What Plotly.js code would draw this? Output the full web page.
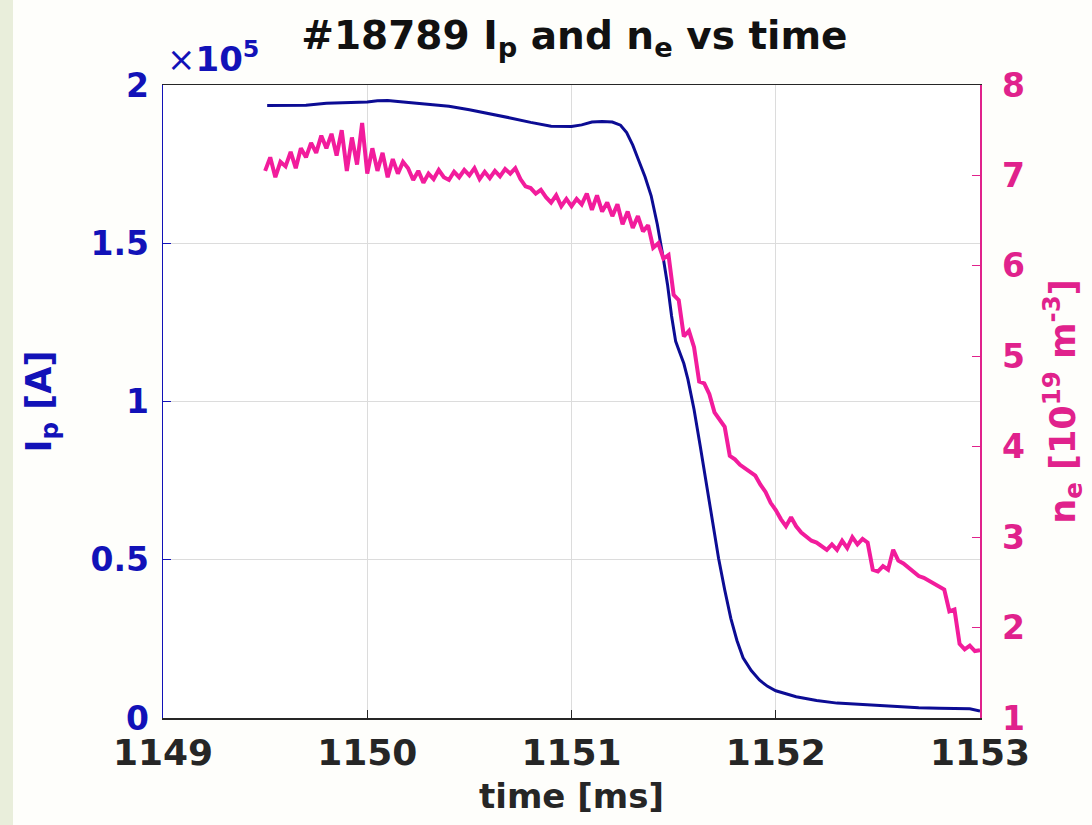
<!DOCTYPE html>
<html>
<head>
<meta charset="utf-8">
<script src="https://cdn.plot.ly/plotly-3.0.1.min.js"></script>
<style>
  html, body { margin: 0; padding: 0; }
  body { width: 1092px; height: 825px; background: linear-gradient(to right, #e9eedb 0px, #e9eedb 13px, #fefefb 13px); }
  #chart { width: 1092px; height: 825px; }
</style>
</head>
<body>
<div id="chart"></div>
<script>
// Plasma current Ip [A]
const ipTime = [1149.51,1149.60,1149.70,1149.80,1149.90,1150.00,1150.05,1150.10,1150.15,1150.20,1150.30,1150.40,1150.50,1150.60,1150.70,1150.80,1150.90,1151.00,1151.05,1151.10,1151.15,1151.20,1151.24,1151.27,1151.30,1151.33,1151.36,1151.39,1151.42,1151.45,1151.47,1151.49,1151.51,1151.53,1151.55,1151.57,1151.60,1151.63,1151.66,1151.69,1151.72,1151.75,1151.78,1151.81,1151.84,1151.88,1151.92,1151.96,1152.00,1152.10,1152.20,1152.30,1152.40,1152.50,1152.60,1152.70,1152.80,1152.90,1152.95,1153.00];
const ipValues = [193500,193500,193600,194200,194300,194600,195000,195100,194800,194500,194000,193300,192200,191000,189600,188200,187000,186900,187400,188300,188500,188300,187300,185000,181000,176000,171000,165000,156000,145000,137000,127000,119000,115500,112000,107000,97500,86000,74000,62000,50500,40500,31500,24500,19000,15000,12000,10000,8600,6700,5500,4700,4300,3800,3400,3200,3100,3000,2900,2200];

// Electron density ne [1e19 m^-3]
const neTime = [
1149.500,1149.525,1149.550,1149.575,1149.600,1149.625,1149.650,1149.675,1149.700,1149.725,1149.750,1149.775,
1149.800,1149.825,1149.850,1149.875,1149.900,1149.925,1149.950,1149.975,1150.000,1150.025,1150.050,1150.075,
1150.100,1150.125,1150.150,1150.175,1150.200,1150.225,1150.250,1150.275,1150.300,1150.325,1150.350,1150.375,
1150.400,1150.425,1150.450,1150.475,1150.500,1150.525,1150.550,1150.575,1150.600,1150.625,1150.650,1150.675,
1150.700,1150.725,1150.750,1150.775,1150.800,1150.825,1150.850,1150.875,1150.900,1150.925,1150.950,1150.975,
1151.000,1151.025,1151.050,1151.075,1151.100,1151.125,1151.150,1151.175,1151.200,1151.225,1151.250,1151.275,
1151.300,1151.325,1151.350,1151.375,1151.400,1151.425,1151.450,1151.475,1151.500,1151.525,1151.550,1151.575,
1151.600,1151.625,1151.650,1151.675,1151.700,1151.725,1151.750,1151.775,1151.800,1151.825,1151.850,1151.875,
1151.900,1151.925,1151.950,1151.975,1152.000,1152.025,1152.050,1152.075,1152.100,1152.125,1152.150,1152.175,
1152.200,1152.225,1152.250,1152.275,1152.300,1152.325,1152.350,1152.375,1152.400,1152.425,1152.450,1152.475,
1152.500,1152.525,1152.550,1152.575,1152.600,1152.625,1152.650,1152.675,1152.700,1152.725,1152.750,1152.775,
1152.800,1152.825,1152.850,1152.875,1152.900,1152.925,1152.950,1152.975,1153.000];
const neValues = [
7.05,7.20,6.98,7.15,7.10,7.26,7.08,7.30,7.20,7.36,7.25,7.44,
7.30,7.46,7.22,7.50,7.05,7.42,7.12,7.58,7.02,7.30,7.05,7.25,
6.98,7.18,7.02,7.15,7.08,6.95,7.05,6.92,7.02,6.96,7.06,6.98,
6.95,7.04,6.98,7.06,7.00,7.08,6.96,7.04,6.97,7.05,6.99,7.07,
7.02,7.08,6.96,6.88,6.86,6.80,6.84,6.76,6.70,6.78,6.66,6.74,
6.66,6.74,6.68,6.80,6.62,6.78,6.60,6.70,6.55,6.68,6.46,6.60,
6.42,6.55,6.38,6.45,6.20,6.25,6.08,6.12,5.68,5.62,5.22,5.28,
5.10,4.72,4.70,4.58,4.38,4.30,4.22,3.90,3.86,3.80,3.76,3.72,
3.68,3.58,3.50,3.38,3.30,3.20,3.12,3.22,3.12,3.05,3.00,2.96,
2.94,2.90,2.86,2.92,2.86,2.96,2.88,3.00,2.92,2.98,2.94,2.64,
2.62,2.68,2.64,2.86,2.74,2.71,2.66,2.62,2.57,2.55,2.52,2.49,
2.45,2.42,2.18,2.20,1.82,1.76,1.80,1.74,1.75];

const xTicks = [1149, 1150, 1151, 1152, 1153];
const ipTickVals = [0, 50000, 100000, 150000, 200000];
const ipTickText = ['0', '0.5', '1', '1.5', '2'];
const neTicks = [1, 2, 3, 4, 5, 6, 7, 8];

const BLUE_AX = '#1212b8';
const BLUE_LN = '#0c0c94';
const PINK_AX = '#e0228c';
const PINK_LN = '#f21c9c';
const FONT = 'DejaVu Sans';

const traces = [
  {x: ipTime, y: ipValues, type: 'scatter', mode: 'lines', name: 'Ip',
   line: {color: BLUE_LN, width: 3}, yaxis: 'y'},
  {x: neTime, y: neValues, type: 'scatter', mode: 'lines', name: 'ne',
   line: {color: PINK_LN, width: 4}, yaxis: 'y2'}
];

const layout = {
  width: 1092, height: 825,
  margin: {l: 163, r: 112, t: 85, b: 107},
  paper_bgcolor: 'rgba(0,0,0,0)',
  plot_bgcolor: '#ffffff',
  showlegend: false,
  title: {text: '#18789 I<sub>p</sub> and n<sub>e</sub> vs time',
          font: {family: FONT, size: 39, color: '#111111', weight: 'bold'},
          x: 0.526, xanchor: 'center', y: 0.957, yanchor: 'middle'},
  xaxis: {
    range: [1149, 1153], tickvals: xTicks, ticks: 'inside', ticklen: 8,
    tickcolor: '#262626', linecolor: '#262626', linewidth: 1.5, mirror: true,
    showgrid: true, gridcolor: '#dcdcdc', gridwidth: 1, zeroline: false,
    tickfont: {family: FONT, size: 36, color: '#262626', weight: 'bold'},
    ticklabelstandoff: 2,
    title: {text: 'time [ms]', font: {family: FONT, size: 34, color: '#262626', weight: 'bold'}, standoff: 12}
  },
  yaxis: {
    range: [0, 200000], tickvals: ipTickVals, ticktext: ipTickText,
    ticks: 'inside', ticklen: 8, tickcolor: BLUE_AX, linecolor: BLUE_AX, linewidth: 1.5,
    showgrid: true, gridcolor: '#dcdcdc', gridwidth: 1, zeroline: false,
    tickfont: {family: FONT, size: 33, color: BLUE_AX, weight: 'bold'},
    ticklabelstandoff: 6,
    title: {text: 'I<sub>p</sub> [A]', font: {family: FONT, size: 35, color: BLUE_AX, weight: 'bold'}, standoff: 28}
  },
  yaxis2: {
    range: [1, 8], tickvals: neTicks, overlaying: 'y', side: 'right',
    ticks: 'inside', ticklen: 8, tickcolor: PINK_AX, linecolor: PINK_AX, linewidth: 1.5,
    showgrid: false, zeroline: false,
    tickfont: {family: FONT, size: 33, color: PINK_AX, weight: 'bold'},
    ticklabelstandoff: 14,
    title: {text: 'n<sub>e</sub> [10<sup>19</sup> m<sup>-3</sup>]', font: {family: FONT, size: 35, color: PINK_AX, weight: 'bold'}, standoff: 26}
  },
  annotations: [
    {xref: 'paper', yref: 'paper', x: 0.0, y: 1.0, xanchor: 'left', yanchor: 'bottom', yshift: 4, xshift: 2,
     showarrow: false, text: '<span style="font-weight:normal">×</span>10<sup>5</sup>',
     font: {family: FONT, size: 34, color: BLUE_AX, weight: 'bold'}}
  ]
};

Plotly.newPlot('chart', traces, layout, {displayModeBar: false, staticPlot: true});
</script>
</body>
</html>
